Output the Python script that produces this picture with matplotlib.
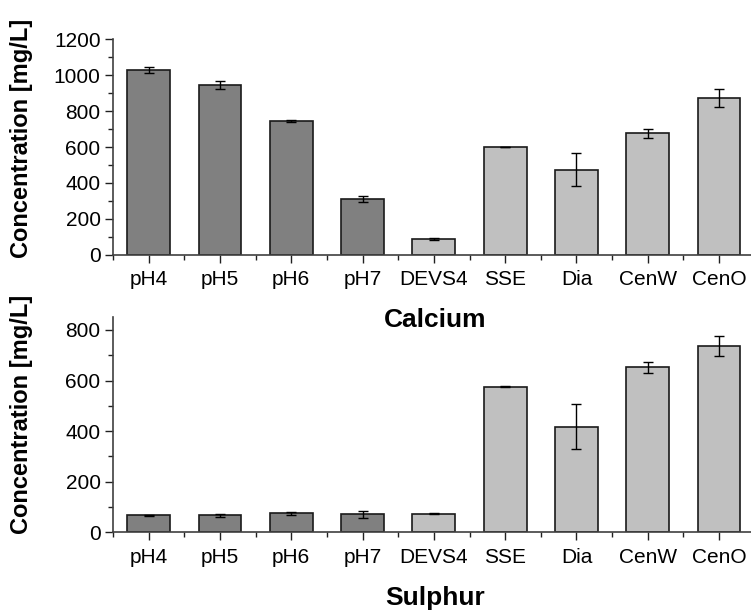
import numpy as np
import matplotlib
matplotlib.use("Agg")
import matplotlib.pyplot as plt
from matplotlib.ticker import MultipleLocator, FixedLocator

plt.rcParams['font.family'] = ['Liberation Sans', 'DejaVu Sans']

# samples on the x axis
labels = ["pH4", "pH5", "pH6", "pH7", "DEVS4", "SSE", "Dia", "CenW", "CenO"]

# calcium concentrations and errors [mg/L]
ca = [1028, 947, 746, 313, 90, 598, 474, 676, 870]
ca_err = [19, 22, 5, 17, 7, 0, 91, 25, 50]

# sulphur concentrations and errors [mg/L]
s = [67, 67, 75, 71, 73, 575, 418, 652, 737]
s_err = [2, 5, 5, 14, 2, 2, 90, 23, 40]

# first four are the pH series (dark), the rest light
colors = ["#808080"] * 4 + ["#c0c0c0"] * 5

fig = plt.figure(figsize=(7.51, 6.10), dpi=100)
ax1 = fig.add_axes([0.1505, 0.582, 0.8545, 0.354])
ax2 = fig.add_axes([0.1505, 0.1274, 0.8545, 0.3525])

x = np.arange(len(labels))


def draw(ax, vals, errs, ymax, step, ylab_y):
    ax.bar(x, vals, width=0.6, color=colors, edgecolor="#1a1a1a", linewidth=1.2, zorder=2)
    ax.errorbar(x, vals, yerr=errs, fmt="none", ecolor="black", elinewidth=1,
                capsize=3.5, capthick=1, zorder=3)
    ax.set_xlim(-0.5, 8.5)
    ax.set_ylim(0, ymax)
    ax.set_xticks(x)
    ax.set_xticklabels(labels)
    ax.xaxis.set_minor_locator(FixedLocator(np.arange(-0.5, 9, 1.0)))
    ax.yaxis.set_major_locator(MultipleLocator(step))
    ax.yaxis.set_minor_locator(MultipleLocator(step / 2))
    for side in ["top", "right"]:
        ax.spines[side].set_visible(False)
    for side in ["left", "bottom"]:
        ax.spines[side].set_color("#404040")
        ax.spines[side].set_linewidth(1.2)
    ax.tick_params(axis="both", which="major", length=6, width=1, labelsize=15, pad=3,
                   color="#202020")
    ax.tick_params(axis="x", which="major", pad=5)
    ax.tick_params(axis="both", which="minor", length=3.5, width=1, color="#202020")
    ax.set_ylabel("Concentration [mg/L]", fontsize=17, fontweight="bold")
    ax.yaxis.set_label_coords(-0.125, ylab_y)


draw(ax1, ca, ca_err, 1200, 200, 0.54)
draw(ax2, s, s_err, 850, 200, 0.55)

fig.text(0.579, 0.476, "Calcium", ha="center", va="center", fontsize=19, fontweight="bold")
fig.text(0.579, 0.019, "Sulphur", ha="center", va="center", fontsize=19, fontweight="bold")

fig.savefig("out.png", dpi=100)
